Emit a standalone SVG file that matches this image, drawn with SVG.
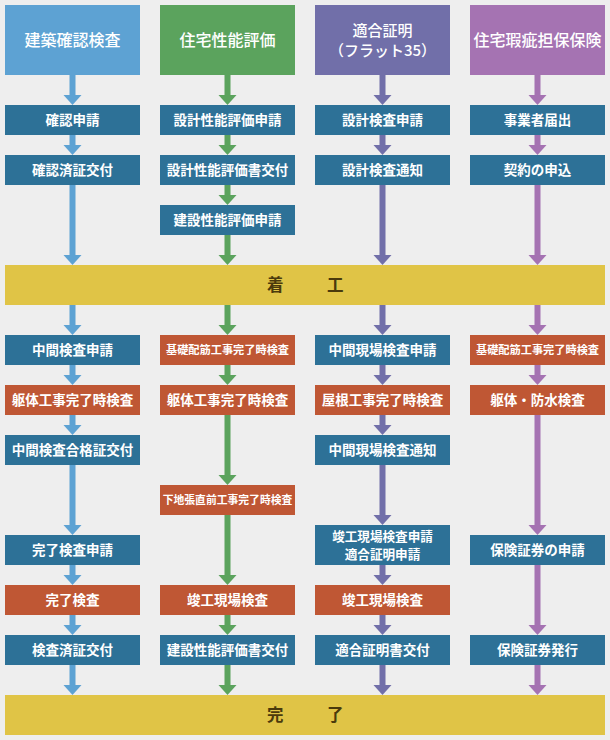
<svg xmlns="http://www.w3.org/2000/svg" width="610" height="740" viewBox="0 0 610 740">
<style>
.hd{font-family:"Noto Sans CJK JP","Noto Sans",sans-serif;font-size:16px;font-weight:500;fill:#fff;text-anchor:middle}
.hd2{font-size:15px}
.bx{font-family:"Noto Sans CJK JP","Noto Sans",sans-serif;font-size:13.5px;font-weight:bold;fill:#fff;text-anchor:middle}
.sm{font-size:11.2px}
.xs{font-size:10.8px}
.md{font-size:12.6px}
.band{font-family:"Noto Sans CJK JP","Noto Sans",sans-serif;font-size:16.5px;font-weight:bold;fill:#4a3a0c;letter-spacing:3.5px}
.b{fill:#2d7197}
.o{fill:#bf5734}
.y{fill:#e0c446}
.c1{stroke:#5da2d3}
.c2{stroke:#5ba35d}
.c3{stroke:#716fa9}
.c4{stroke:#a573b2}
#connectors path{stroke-width:6;fill:none}
</style>
<defs>
<marker id="m1" markerUnits="userSpaceOnUse" markerWidth="10" markerHeight="20" refX="0" refY="10" orient="auto" viewBox="0 0 10 20"><path d="M0,1 L10,10 L0,19 z" fill="#5da2d3"/></marker>
<marker id="m2" markerUnits="userSpaceOnUse" markerWidth="10" markerHeight="20" refX="0" refY="10" orient="auto" viewBox="0 0 10 20"><path d="M0,1 L10,10 L0,19 z" fill="#5ba35d"/></marker>
<marker id="m3" markerUnits="userSpaceOnUse" markerWidth="10" markerHeight="20" refX="0" refY="10" orient="auto" viewBox="0 0 10 20"><path d="M0,1 L10,10 L0,19 z" fill="#716fa9"/></marker>
<marker id="m4" markerUnits="userSpaceOnUse" markerWidth="10" markerHeight="20" refX="0" refY="10" orient="auto" viewBox="0 0 10 20"><path d="M0,1 L10,10 L0,19 z" fill="#a573b2"/></marker>
</defs>
<rect width="610" height="740" fill="#eeeeee"/>

<g id="connectors">
<g class="c1" marker-end="url(#m1)">
<path d="M72.5,75V95"/><path d="M72.5,135V145"/><path d="M72.5,185V255"/><path d="M72.5,305V325"/><path d="M72.5,365V375"/><path d="M72.5,415V425"/><path d="M72.5,465V525"/><path d="M72.5,565V575"/><path d="M72.5,615V625"/><path d="M72.5,665V685"/>
</g>
<g class="c2" marker-end="url(#m2)">
<path d="M227.5,75V95"/><path d="M227.5,135V145"/><path d="M227.5,185V195"/><path d="M227.5,235V255"/><path d="M227.5,305V325"/><path d="M227.5,365V375"/><path d="M227.5,415V475"/><path d="M227.5,515V575"/><path d="M227.5,615V625"/><path d="M227.5,665V685"/>
</g>
<g class="c3" marker-end="url(#m3)">
<path d="M382.5,75V95"/><path d="M382.5,135V145"/><path d="M382.5,185V255"/><path d="M382.5,305V325"/><path d="M382.5,365V375"/><path d="M382.5,415V425"/><path d="M382.5,465V515"/><path d="M382.5,565V575"/><path d="M382.5,615V625"/><path d="M382.5,665V685"/>
</g>
<g class="c4" marker-end="url(#m4)">
<path d="M537.5,75V95"/><path d="M537.5,135V145"/><path d="M537.5,185V255"/><path d="M537.5,305V325"/><path d="M537.5,365V375"/><path d="M537.5,415V525"/><path d="M537.5,565V625"/><path d="M537.5,665V685"/>
</g>
</g>

<g id="h1"><rect x="5" y="5" width="135" height="70" fill="#5da2d3"/><text class="hd" x="72.5" y="46">建築確認検査</text></g>
<g id="h2"><rect x="160" y="5" width="135" height="70" fill="#5ba35d"/><text class="hd" x="227.5" y="46">住宅性能評価</text></g>
<g id="h3"><rect x="315" y="5" width="135" height="70" fill="#716fa9"/><text class="hd hd2" x="382.5" y="36">適合証明</text><text class="hd hd2" x="382.5" y="55.5">（フラット35）</text></g>
<g id="h4"><rect x="470" y="5" width="135" height="70" fill="#a573b2"/><text class="hd" x="537.5" y="46">住宅瑕疵担保保険</text></g>

<g id="n1a"><rect class="b" x="5" y="105" width="135" height="30"/><text class="bx" x="72.5" y="125">確認申請</text></g>
<g id="n1b"><rect class="b" x="5" y="155" width="135" height="30"/><text class="bx" x="72.5" y="175">確認済証交付</text></g>
<g id="n2a"><rect class="b" x="160" y="105" width="135" height="30"/><text class="bx" x="227.5" y="125">設計性能評価申請</text></g>
<g id="n2b"><rect class="b" x="160" y="155" width="135" height="30"/><text class="bx" x="227.5" y="175">設計性能評価書交付</text></g>
<g id="n2c"><rect class="b" x="160" y="205" width="135" height="30"/><text class="bx" x="227.5" y="225">建設性能評価申請</text></g>
<g id="n3a"><rect class="b" x="315" y="105" width="135" height="30"/><text class="bx" x="382.5" y="125">設計検査申請</text></g>
<g id="n3b"><rect class="b" x="315" y="155" width="135" height="30"/><text class="bx" x="382.5" y="175">設計検査通知</text></g>
<g id="n4a"><rect class="b" x="470" y="105" width="135" height="30"/><text class="bx" x="537.5" y="125">事業者届出</text></g>
<g id="n4b"><rect class="b" x="470" y="155" width="135" height="30"/><text class="bx" x="537.5" y="175">契約の申込</text></g>

<g id="start"><rect class="y" x="5" y="265" width="600" height="40"/><text class="band" x="267" y="291">着　　工</text></g>

<g id="n1c"><rect class="b" x="5" y="335" width="135" height="30"/><text class="bx" x="72.5" y="355">中間検査申請</text></g>
<g id="n1d"><rect class="o" x="5" y="385" width="135" height="30"/><text class="bx" x="72.5" y="405">躯体工事完了時検査</text></g>
<g id="n1e"><rect class="b" x="5" y="435" width="135" height="30"/><text class="bx" x="72.5" y="455">中間検査合格証交付</text></g>
<g id="n1f"><rect class="b" x="5" y="535" width="135" height="30"/><text class="bx" x="72.5" y="555">完了検査申請</text></g>
<g id="n1g"><rect class="o" x="5" y="585" width="135" height="30"/><text class="bx" x="72.5" y="605">完了検査</text></g>
<g id="n1h"><rect class="b" x="5" y="635" width="135" height="30"/><text class="bx" x="72.5" y="655">検査済証交付</text></g>

<g id="n2d"><rect class="o" x="160" y="335" width="135" height="30"/><text class="bx sm" x="227.5" y="354">基礎配筋工事完了時検査</text></g>
<g id="n2e"><rect class="o" x="160" y="385" width="135" height="30"/><text class="bx" x="227.5" y="405">躯体工事完了時検査</text></g>
<g id="n2f"><rect class="o" x="160" y="485" width="135" height="30"/><text class="bx xs" x="227.5" y="504">下地張直前工事完了時検査</text></g>
<g id="n2g"><rect class="o" x="160" y="585" width="135" height="30"/><text class="bx" x="227.5" y="605">竣工現場検査</text></g>
<g id="n2h"><rect class="b" x="160" y="635" width="135" height="30"/><text class="bx" x="227.5" y="655">建設性能評価書交付</text></g>

<g id="n3c"><rect class="b" x="315" y="335" width="135" height="30"/><text class="bx" x="382.5" y="355">中間現場検査申請</text></g>
<g id="n3d"><rect class="o" x="315" y="385" width="135" height="30"/><text class="bx" x="382.5" y="405">屋根工事完了時検査</text></g>
<g id="n3e"><rect class="b" x="315" y="435" width="135" height="30"/><text class="bx" x="382.5" y="455">中間現場検査通知</text></g>
<g id="n3f"><rect class="b" x="315" y="525" width="135" height="40"/><text class="bx md" x="382.5" y="541">竣工現場検査申請</text><text class="bx md" x="382.5" y="558.5">適合証明申請</text></g>
<g id="n3g"><rect class="o" x="315" y="585" width="135" height="30"/><text class="bx" x="382.5" y="605">竣工現場検査</text></g>
<g id="n3h"><rect class="b" x="315" y="635" width="135" height="30"/><text class="bx" x="382.5" y="655">適合証明書交付</text></g>

<g id="n4c"><rect class="o" x="470" y="335" width="135" height="30"/><text class="bx sm" x="537.5" y="354">基礎配筋工事完了時検査</text></g>
<g id="n4d"><rect class="o" x="470" y="385" width="135" height="30"/><text class="bx" x="537.5" y="405">躯体・防水検査</text></g>
<g id="n4e"><rect class="b" x="470" y="535" width="135" height="30"/><text class="bx" x="537.5" y="555">保険証券の申請</text></g>
<g id="n4f"><rect class="b" x="470" y="635" width="135" height="30"/><text class="bx" x="537.5" y="655">保険証券発行</text></g>

<g id="end"><rect class="y" x="5" y="695" width="600" height="40"/><text class="band" x="267" y="721">完　　了</text></g>
</svg>
